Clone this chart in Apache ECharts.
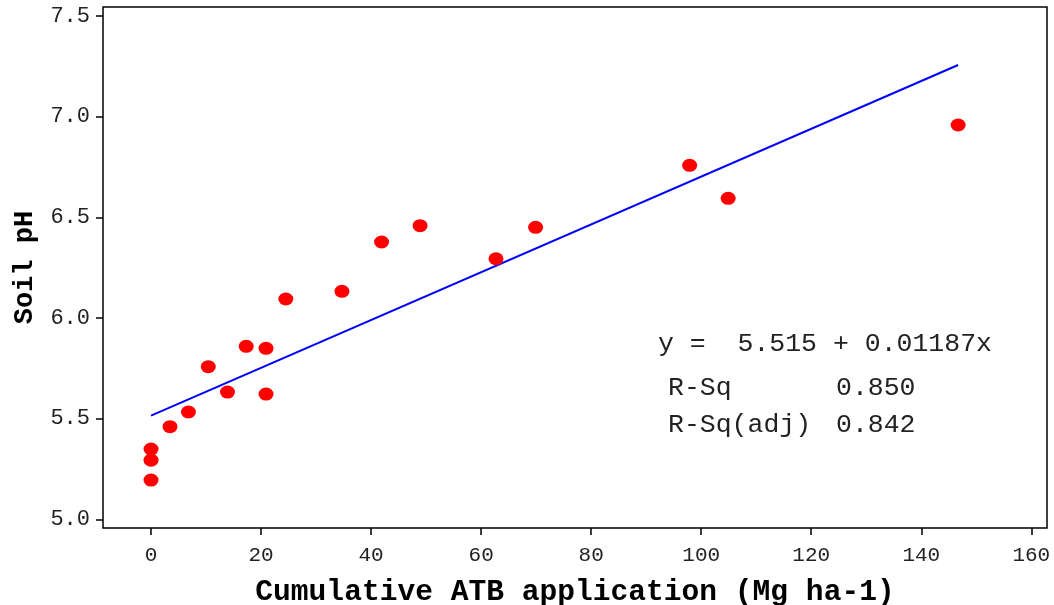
<!DOCTYPE html>
<html>
<head>
<meta charset="utf-8">
<script src="https://cdn.jsdelivr.net/npm/echarts@6/dist/echarts.min.js"></script>
<style>
  html, body { margin: 0; padding: 0; background: #fff; }
  #chart { width: 1054px; height: 605px; }
</style>
</head>
<body>
<div id="chart"></div>
<script>
// Cumulative ATB application (Mg ha-1) vs soil pH
const atb = [0, 0, 0, 3.45, 6.8, 10.4, 13.9, 17.3, 20.9, 20.9, 24.5, 34.7, 41.9, 48.9, 62.7, 69.9, 97.9, 104.9, 146.7];
const soilPH = [5.195, 5.294, 5.349, 5.46, 5.533, 5.758, 5.632, 5.859, 5.849, 5.622, 6.094, 6.132, 6.377, 6.458, 6.294, 6.450, 6.758, 6.594, 6.958];

// Regression line end points (y = 5.515 + 0.01187x)
const fitX = [0, 146.7];
const fitY = [5.515, 7.256];

const xTicks = [0, 20, 40, 60, 80, 100, 120, 140, 160];
const yTicks = [5.0, 5.5, 6.0, 6.5, 7.0, 7.5];

const fitLines = [
  'y =  5.515 + 0.01187x',
  'R-Sq',
  '0.850',
  'R-Sq(adj)',
  '0.842'
];

const MONO = '"Liberation Mono", "DejaVu Sans Mono", monospace';

const chart = echarts.init(document.getElementById('chart'), null, { renderer: 'canvas' });

const points = atb.map((x, i) => [x, soilPH[i]]);
const fit = fitX.map((x, i) => [x, fitY[i]]);

chart.setOption({
  animation: false,
  backgroundColor: '#ffffff',
  grid: {
    left: 103, top: 7, right: 7, bottom: 77,
    outerBoundsMode: 'none',
    containLabel: false,
    show: true, borderColor: '#000', borderWidth: 1.5, backgroundColor: 'transparent'
  },
  xAxis: {
    type: 'value',
    min: -8.73, max: 162.85,
    name: 'Cumulative ATB application (Mg ha-1)',
    nameLocation: 'middle',
    nameGap: 50,
    nameTextStyle: { fontFamily: MONO, fontWeight: 'bold', fontSize: 29.6, color: '#000' },
    axisLine: { show: false, onZero: false },
    splitLine: { show: false },
    axisTick: { show: true, customValues: xTicks, length: 7, lineStyle: { color: '#000', width: 1.5 } },
    axisLabel: {
      customValues: xTicks, margin: 17, fontFamily: MONO, fontSize: 21, color: '#222',
      formatter: v => String(v)
    }
  },
  yAxis: {
    type: 'value',
    min: 4.957, max: 7.544,
    name: 'Soil pH',
    nameLocation: 'middle',
    nameGap: 64,
    nameRotate: 90,
    nameTextStyle: { fontFamily: MONO, fontWeight: 'bold', fontSize: 27, color: '#000' },
    axisLine: { show: false, onZero: false },
    splitLine: { show: false },
    axisTick: { show: true, customValues: yTicks, length: 7, lineStyle: { color: '#000', width: 1.5 } },
    axisLabel: {
      customValues: yTicks, margin: 13, fontFamily: MONO, fontSize: 22, color: '#222',
      formatter: v => v.toFixed(1)
    }
  },
  series: [
    {
      type: 'line',
      data: fit,
      showSymbol: false,
      lineStyle: { color: '#0000ff', width: 2 },
      z: 2
    },
    {
      type: 'scatter',
      data: points,
      symbol: 'circle',
      symbolSize: [15, 13],
      itemStyle: { color: '#ff0000', opacity: 1 },
      z: 3
    }
  ],
  graphic: [
    { type: 'text', left: 658, top: 330, style: { text: fitLines[0], font: '26.5px ' + MONO, fill: '#222' } },
    { type: 'text', left: 668, top: 374, style: { text: fitLines[1], font: '26.5px ' + MONO, fill: '#222' } },
    { type: 'text', left: 836, top: 374, style: { text: fitLines[2], font: '26.5px ' + MONO, fill: '#222' } },
    { type: 'text', left: 668, top: 411, style: { text: fitLines[3], font: '26.5px ' + MONO, fill: '#222' } },
    { type: 'text', left: 836, top: 411, style: { text: fitLines[4], font: '26.5px ' + MONO, fill: '#222' } }
  ]
});
</script>
</body>
</html>
